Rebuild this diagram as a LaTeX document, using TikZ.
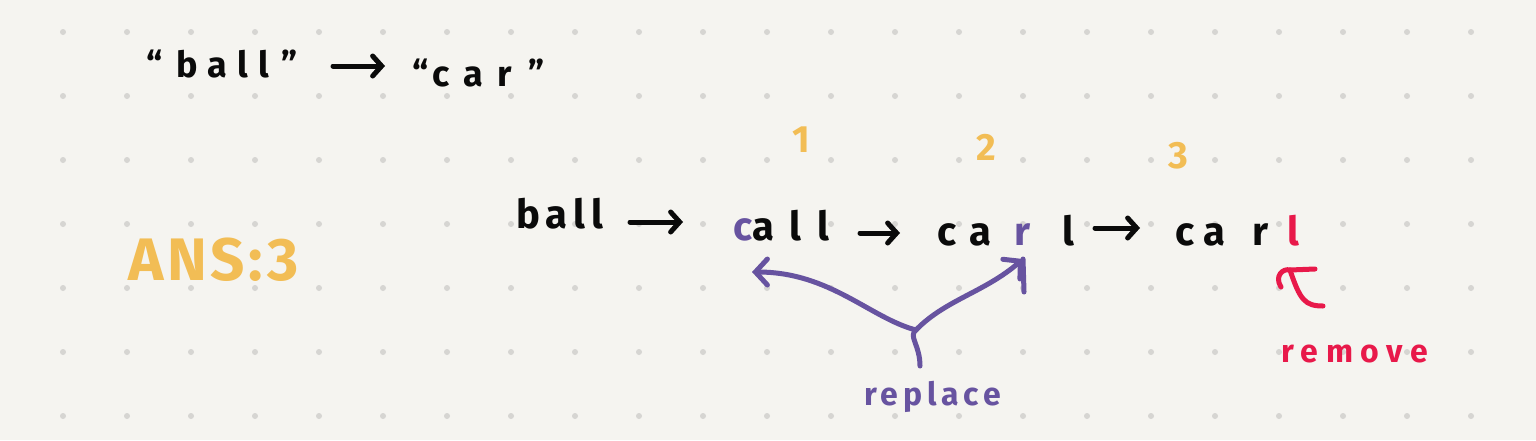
\documentclass[tikz,border=0pt]{standalone}
\usepackage{fontspec}
\setmainfont[LetterSpace=15]{Fira Sans}
\usetikzlibrary{arrows.meta}
\definecolor{bg}{HTML}{F5F4F0}
\definecolor{dotc}{HTML}{D6D5D2}
\definecolor{ink}{HTML}{0A0A0A}
\definecolor{purp}{HTML}{6753A0}
\definecolor{orng}{HTML}{F2BD55}
\definecolor{rred}{HTML}{E8194A}
\tikzset{
  word/.style={anchor=base west, inner sep=0pt, text=ink, font=\fontsize{40}{44}\selectfont\bfseries},
  title/.style={anchor=base west, inner sep=0pt, text=ink, font=\fontsize{36}{40}\selectfont\bfseries},
  num/.style={anchor=base, inner sep=0pt, text=orng, font=\fontsize{38}{42}\selectfont\bfseries},
  note/.style={anchor=base west, inner sep=0pt, font=\fontsize{32}{36}\selectfont\bfseries},
  pen/.style={line width=5pt, line cap=round, line join=round},
  harrow/.style={pen, draw=ink, -{Straight Barb[length=9pt,width=20pt,line cap=round]}},
  parrow/.style={pen, draw=purp, -{Straight Barb[length=12pt,width=26pt,line cap=round]}},
}
\begin{document}
\begin{tikzpicture}[x=1pt,y=-1pt]
\fill[bg] (0,0) rectangle (1536,440);
\useasboundingbox (0,0) rectangle (1536,440);
\foreach \i in {0,...,22}
  \foreach \j in {0,...,6}
    \fill[dotc] (63+64*\i,32+64*\j) circle (3pt);

% title line
\node[title] (tball) at (146,77) {“\hspace{14pt}\addfontfeature{LetterSpace=29}ball\hspace{12pt}”};
\node[title] (tcar) at (412,86) {“\hspace{4pt}\addfontfeature{LetterSpace=40}car\hspace{16pt}”};
\coordinate (ta1) at (333,66);
\coordinate (ta2) at (385,66);
\draw[harrow] (ta1) -- (ta2);

% answer
\node[anchor=base west, inner sep=0pt, text=orng, font=\fontsize{60}{64}\selectfont\bfseries\addfontfeature{LetterSpace=6}] (ans) at (128,280) {ANS:3};

% step numbers
\node[num] (n1) at (801,152) {1};
\node[num] (n2) at (986,160) {2};
\node[num] (n3) at (1178,168) {3};

% words
\node[word] (w1) at (516,228) {ball};
\node[word] (w2) at (733,240) {\addfontfeature{LetterSpace=40}{\color{purp}c}all};
\node[word] (w3) at (937,245) {\addfontfeature{LetterSpace=33}ca\hspace{23pt}{\color{purp}r}\hspace{32pt}l};
\node[word] (w4) at (1175,245) {\addfontfeature{LetterSpace=25}ca\hspace{27pt}r\hspace{19pt}{\color{rred}l}};

\coordinate (a1s) at (630,222);
\coordinate (a1e) at (683,222);
\coordinate (a2s) at (860,233);
\coordinate (a2e) at (900,233);
\coordinate (a3s) at (1095,228);
\coordinate (a3e) at (1140,228);
\draw[harrow] (a1s) -- (a1e);
\draw[harrow] (a2s) -- (a2e);
\draw[harrow] (a3s) -- (a3e);

% replace annotation
\coordinate (jn) at (916,330);
\coordinate (jb) at (920,366);
\coordinate (lt) at (752,272);
\coordinate (rt) at (1023,259);
\coordinate (rb) at (1024,292);
\draw[parrow] (jn) .. controls (870,318) and (830,272) .. (lt);
\draw[parrow] (jn) .. controls (945,300) and (985,292) .. (rt);
\draw[pen, purp] (rt) -- (rb);
\draw[pen, purp] (jn) .. controls (908,336) and (920,345) .. (jb);
\node[note, text=purp] (rep) at (864,405) {replace};

% remove annotation
\coordinate (r1) at (1281,287);
\coordinate (r2) at (1290,270);
\coordinate (r3) at (1315,269);
\coordinate (r4) at (1323,306);
\draw[pen, rred] (r1) .. controls (1274,276) and (1283,268) .. (r2) -- (r3);
\draw[pen, rred] (r2) .. controls (1300,300) and (1305,306) .. (r4);
\node[note, text=rred, font=\fontsize{32}{36}\selectfont\bfseries\addfontfeature{LetterSpace=24}] (rem) at (1281,362) {remove};
\end{tikzpicture}
\end{document}
